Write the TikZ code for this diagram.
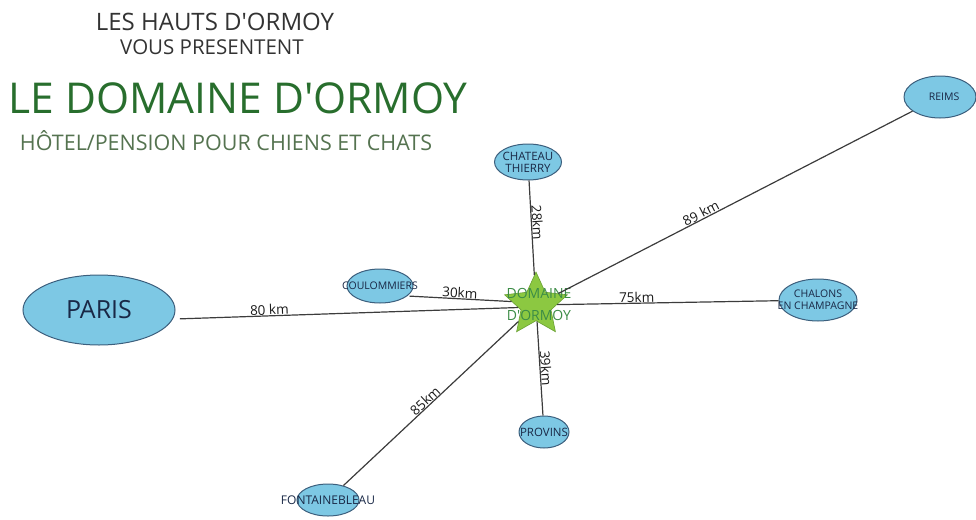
\documentclass[tikz,border=0pt]{standalone}
\usepackage{fontspec}
\setmainfont{Open Sans}
\usetikzlibrary{shapes.geometric}
\definecolor{cityfill}{RGB}{125,200,228}
\definecolor{cityedge}{RGB}{60,95,125}
\definecolor{citytext}{RGB}{25,40,70}
\definecolor{titlegreen}{RGB}{40,110,45}
\definecolor{subgreen}{RGB}{85,115,80}
\definecolor{starfill}{RGB}{140,200,65}
\definecolor{staredge}{RGB}{105,160,50}
\definecolor{domtext}{RGB}{60,140,70}
\definecolor{linegray}{RGB}{60,60,60}
\newcommand{\zerobox}[1]{\makebox[0pt]{#1}}
\tikzset{
  city/.style={ellipse, draw=cityedge, line width=1pt, fill=cityfill, inner sep=0pt, text=citytext, font=\fontsize{11}{11}\selectfont, align=center},
  road/.style={draw=linegray, line width=1.2pt},
  dist/.style={sloped, above, inner sep=0.3pt, font=\fontsize{13.5}{13.5}\selectfont, text=black!90}
}
\begin{document}
\begin{tikzpicture}[x=1pt,y=-1pt]
\useasboundingbox (0,0) rectangle (976,519);
% titles
\node[text=black!80, font=\fontsize{24}{26}\selectfont] (t1) at (215,22) {LES HAUTS D\textquotesingle ORMOY};
\node[text=black!80, font=\fontsize{20.5}{22}\selectfont] (t2) at (212,47) {VOUS PRESENTENT};
\node[text=titlegreen, font=\fontsize{42.5}{46}\selectfont] (t3) at (238,98) {LE DOMAINE D\textquotesingle ORMOY};
\node[text=subgreen, font=\fontsize{21.5}{24}\selectfont] (t4) at (226,141) {HÔTEL/PENSION POUR CHIENS ET CHATS};
% centre
\node[star, star points=5, star point ratio=2.1, minimum size=66pt, inner sep=0pt, fill=starfill, draw=staredge, line width=0.6pt] (dom) at (536,305) {};
\node[text=domtext, align=center, font=\fontsize{14}{22}\selectfont] (domtxt) at (539,304) {DOMAINE\\D\textquotesingle ORMOY};
% cities
\node[city, minimum width=152pt, minimum height=70pt, font=\fontsize{25}{26}\selectfont] (paris) at (99,310) {PARIS};
\node[city, minimum width=66pt, minimum height=34pt, font=\fontsize{10.5}{11}\selectfont] (coul) at (380,286) {\zerobox{COULOMMIERS}};
\node[city, minimum width=67pt, minimum height=36pt, font=\fontsize{11.5}{12}\selectfont] (chat) at (528,162) {\zerobox{CHATEAU}\\\zerobox{THIERRY}};
\node[city, minimum width=72pt, minimum height=42pt, font=\fontsize{10.5}{11}\selectfont] (reims) at (940,97) {\zerobox{\hspace*{8pt}REIMS}};
\node[city, minimum width=78pt, minimum height=42pt, font=\fontsize{10.5}{12}\selectfont] (chal) at (818,300) {\zerobox{CHALONS}\\\zerobox{EN CHAMPAGNE}};
\node[city, minimum width=50pt, minimum height=32pt, font=\fontsize{11.5}{12}\selectfont] (prov) at (544,432) {\zerobox{PROVINS}};
\node[city, minimum width=62pt, minimum height=32pt, font=\fontsize{12}{12}\selectfont] (font) at (328,500) {\zerobox{FONTAINEBLEAU}};
% roads
\draw[road, shorten <=7pt] (paris.-7) -- node[dist, pos=0.28] {80 km} (dom.188);
\draw[road, shorten <=2pt] (coul.-20) -- node[dist, pos=0.5] {30km} (dom.172);
\draw[road] (chat) -- node[dist, pos=0.45] {28km} (dom);
\draw[road] (dom) -- node[dist, pos=0.41] {89 km} (reims);
\draw[road] (dom) -- node[dist, pos=0.36] {75km} (chal);
\draw[road] (dom) -- node[dist, pos=0.5] {39km} (prov);
\draw[road] (font) -- node[dist, pos=0.49] {85km} (dom);
\end{tikzpicture}
\end{document}
